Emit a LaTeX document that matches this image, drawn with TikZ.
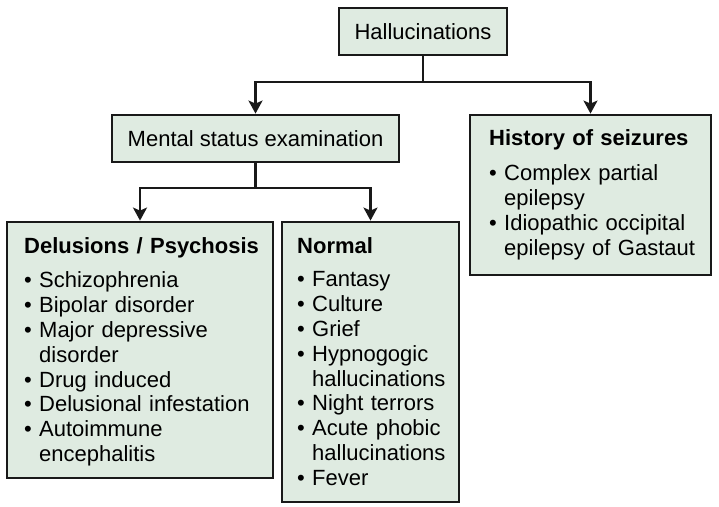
\documentclass[tikz,border=0pt]{standalone}
\usepackage{fontspec}
\setmainfont{Liberation Sans}
\usetikzlibrary{arrows.meta}
\definecolor{boxfill}{RGB}{223,235,225}
\newcommand\itm{\makebox[15pt][l]{\textbullet}}
\newcommand\cnt{\hspace*{15pt}}
\begin{document}
\begin{tikzpicture}[x=1pt,y=-1pt,
  box/.style={draw=black!90, line width=2.8pt, fill=boxfill, inner sep=0pt},
  lbl/.style={font=\fontsize{22}{24.8}\selectfont},
  txt/.style={font=\fontsize{22}{24.8}\selectfont, inner sep=0pt, anchor=base west, text width=240pt, align=left},
  conn/.style={line width=2.2pt, draw=black!90},
  arr/.style={line width=2.2pt, draw=black!90, -{Stealth[length=13pt,width=14pt,inset=3pt]}}]
\useasboundingbox (0,0) rectangle (719,506);
% boxes
\node[box, lbl, minimum width=168pt, minimum height=47pt] (hal) at (423,31.5) {Hallucinations};
\node[box, lbl, minimum width=287pt, minimum height=47pt] (mse) at (255.5,138.5) {Mental status examination};
\node[box, minimum width=241pt, minimum height=160pt] (his) at (590.5,195) {};
\node[box, minimum width=266pt, minimum height=256pt] (del) at (140,350) {};
\node[box, minimum width=177pt, minimum height=280pt] (nor) at (370.5,362) {};
% texts
\node[txt] (histxt) at (489,145) {\textbf{History of seizures}\\[11pt]
\itm Complex partial\\
\cnt epilepsy\\
\itm Idiopathic occipital\\
\cnt epilepsy of Gastaut};
\node[txt] (deltxt) at (24,253) {\textbf{Delusions / Psychosis}\\[10pt]
\itm Schizophrenia\\
\itm Bipolar disorder\\
\itm Major depressive\\
\cnt disorder\\
\itm Drug induced\\
\itm Delusional infestation\\
\itm Autoimmune\\
\cnt encephalitis};
\node[txt] (nortxt) at (297,253) {\textbf{Normal}\\[9pt]
\itm Fantasy\\
\itm Culture\\
\itm Grief\\
\itm Hypnogogic\\
\cnt hallucinations\\
\itm Night terrors\\
\itm Acute phobic\\
\cnt hallucinations\\
\itm Fever};
% connectors
\coordinate (j1) at (423,82);
\coordinate (j2) at (255.5,188);
\draw[conn] (hal.south) -- (j1);
\draw[arr] (j1) -| (mse.north);
\draw[arr] (j1) -| (his.north);
\draw[conn] (mse.south) -- (j2);
\draw[arr] (j2) -| (del.north);
\draw[arr] (j2) -| (nor.north);
\end{tikzpicture}
\end{document}
